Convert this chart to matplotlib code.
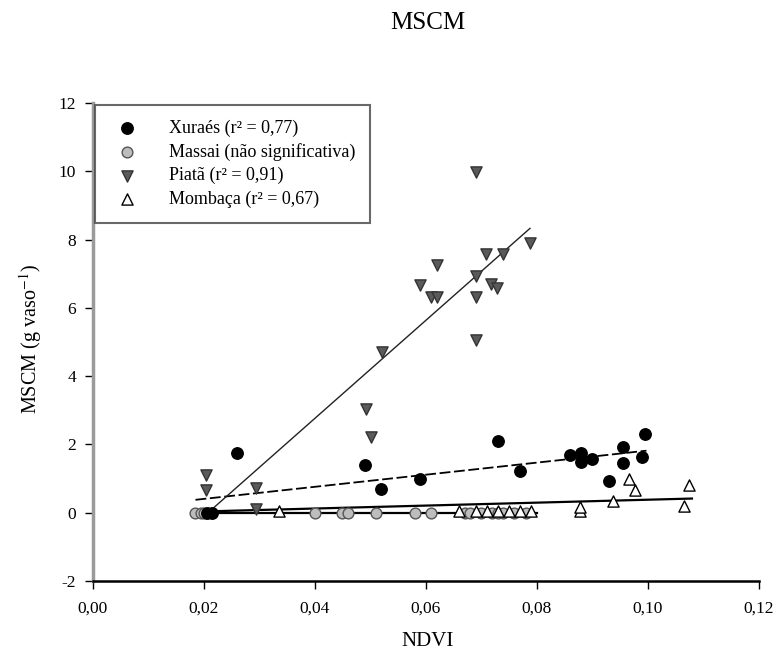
"""MSCM versus NDVI scatter with fitted lines for four grass cultivars."""
import matplotlib

matplotlib.use("Agg")
import matplotlib.pyplot as plt
from matplotlib.ticker import FuncFormatter, MultipleLocator
import numpy as np

plt.rcParams["font.family"] = ["Liberation Serif", "DejaVu Serif"]
plt.rcParams["mathtext.fontset"] = "stix"

# --- data ---
xuraes_x = [0.0205, 0.0215, 0.026, 0.049, 0.052, 0.059, 0.073, 0.077, 0.086, 0.088,
            0.088, 0.090, 0.093, 0.0955, 0.0955, 0.099, 0.0995]
xuraes_y = [0.0, 0.0, 1.76, 1.40, 0.70, 0.99, 2.10, 1.22, 1.70, 1.76,
            1.49, 1.58, 0.94, 1.93, 1.46, 1.64, 2.31]

massai_x = [0.0185, 0.0195, 0.020, 0.040, 0.045, 0.046, 0.051, 0.058, 0.061, 0.067,
            0.068, 0.070, 0.072, 0.073, 0.074, 0.076, 0.078]
massai_y = [0.0] * len(massai_x)

piata_x = [0.0204, 0.0204, 0.0294, 0.0294, 0.0493, 0.0502, 0.0521, 0.0589, 0.0609, 0.062,
           0.062, 0.069, 0.069, 0.069, 0.069, 0.0709, 0.0718, 0.0729, 0.074, 0.0788]
piata_y = [1.11, 0.67, 0.73, 0.10, 3.05, 2.23, 4.71, 6.68, 6.33, 6.33,
           7.26, 9.99, 6.94, 6.33, 5.07, 7.58, 6.70, 6.59, 7.58, 7.90]

mombaca_x = [0.0335, 0.066, 0.069, 0.071, 0.073, 0.075, 0.077, 0.079, 0.0878, 0.0878,
             0.0938, 0.0967, 0.0977, 0.1066, 0.1075]
mombaca_y = [0.05, 0.05, 0.05, 0.05, 0.05, 0.05, 0.05, 0.05, 0.05, 0.18,
             0.35, 1.00, 0.67, 0.20, 0.82]

# fitted lines: intercept, slope, x range
fit_xuraes = (0.05, 17.7, 0.0185, 0.0998)
fit_massai = (0.0, 0.0, 0.019, 0.080)
fit_piata = (-2.98, 143.5, 0.0215, 0.0788)
fit_mombaca = (-0.05, 4.3, 0.020, 0.108)

labels = ["Xuraés (r² = 0,77)", "Massai (não significativa)",
          "Piatã (r² = 0,91)", "Mombaça (r² = 0,67)"]


def fit_line(ax, fit, **kw):
    a, b, x0, x1 = fit
    xs = np.array([x0, x1])
    ax.plot(xs, a + b * xs, zorder=2, **kw)


fig = plt.figure(figsize=(7.74, 6.59), dpi=100)
ax = fig.add_axes([0.120, 0.1184, 0.860, 0.7253])

fit_line(ax, fit_massai, color="black", linewidth=1.6)
fit_line(ax, fit_mombaca, color="black", linewidth=1.6)
fit_line(ax, fit_xuraes, color="black", linewidth=1.3, dashes=(6, 2))
fit_line(ax, fit_piata, color="#222222", linewidth=1.0)

ax.scatter(massai_x, massai_y, s=60, marker="o", facecolor="#bdbdbd",
           edgecolor="#555555", linewidth=1.0, zorder=3, label=labels[1])
ax.scatter(mombaca_x, mombaca_y, s=65, marker="^", facecolor="white",
           edgecolor="black", linewidth=1.0, zorder=4, label=labels[3])
ax.scatter(piata_x, piata_y, s=65, marker="v", facecolor="#5a5a5a",
           edgecolor="#333333", linewidth=1.0, zorder=4, label=labels[2])
ax.scatter(xuraes_x, xuraes_y, s=68, marker="o", facecolor="black",
           edgecolor="black", zorder=5, label=labels[0])

ax.set_xlim(0, 0.12)
ax.set_ylim(-2, 12)
ax.xaxis.set_major_locator(MultipleLocator(0.02))
ax.yaxis.set_major_locator(MultipleLocator(2))
ax.xaxis.set_major_formatter(FuncFormatter(lambda v, p: f"{v:.2f}".replace(".", ",")))
ax.yaxis.set_major_formatter(FuncFormatter(lambda v, p: f"{v:.0f}"))
ax.tick_params(axis="both", direction="out", length=6, width=1, labelsize=12.5)
ax.tick_params(axis="x", pad=8)
ax.tick_params(axis="y", pad=6)

ax.spines["top"].set_visible(False)
ax.spines["right"].set_visible(False)
ax.spines["left"].set_color("#9a9a9a")
ax.spines["left"].set_linewidth(2.5)
ax.spines["bottom"].set_linewidth(1.8)

handles, hl = ax.get_legend_handles_labels()
order = [hl.index(lbl) for lbl in labels]
leg = ax.legend([handles[i] for i in order], labels, loc="upper left",
                borderaxespad=0.1, fontsize=13, frameon=True, fancybox=False,
                handletextpad=1.3, labelspacing=0.35, borderpad=0.8,
                handlelength=2.0)
leg.get_frame().set_edgecolor("#444444")
leg.get_frame().set_linewidth(1.5)

fig.text(0.553, 0.965, "MSCM", ha="center", va="center", fontsize=18)
fig.text(0.553, 0.027, "NDVI", ha="center", va="center", fontsize=15)
fig.text(0.040, 0.485, r"MSCM (g vaso$^{-1}$)", ha="center", va="center",
         rotation=90, fontsize=14.5)

fig.savefig("out.png", dpi=100, facecolor="white")
